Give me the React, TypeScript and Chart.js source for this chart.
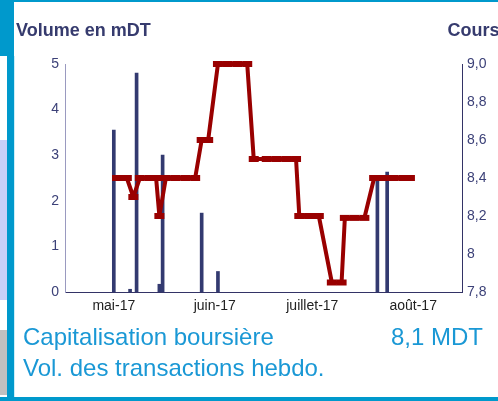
import React, { useEffect, useRef } from "react";
import { Chart, registerables } from "chart.js";

Chart.register(...registerables);

// ---- data ----
const volumeDates = ["2017-05-01", "2017-05-06", "2017-05-08", "2017-05-15", "2017-05-16", "2017-05-28", "2017-06-02", "2017-07-21", "2017-07-24"];
const volumeValues = [3.55, 0.06, 4.8, 0.17, 3.0, 1.73, 0.45, 2.45, 2.63];

const priceDates = [
  "2017-05-02", "2017-05-05", "2017-05-07", "2017-05-09", "2017-05-12", "2017-05-14", "2017-05-15", "2017-05-17",
  "2017-05-20", "2017-05-23", "2017-05-26", "2017-05-28", "2017-05-30", "2017-06-02", "2017-06-05", "2017-06-08",
  "2017-06-11", "2017-06-13", "2017-06-17", "2017-06-20", "2017-06-23", "2017-06-26", "2017-06-27", "2017-06-30",
  "2017-07-03", "2017-07-07", "2017-07-10", "2017-07-11", "2017-07-14", "2017-07-17", "2017-07-20", "2017-07-23",
  "2017-07-26", "2017-07-29", "2017-07-31",
];
const priceValues = [
  8.4, 8.4, 8.3, 8.4, 8.4, 8.4, 8.2, 8.4,
  8.4, 8.4, 8.4, 8.6, 8.6, 9.0, 9.0, 9.0,
  9.0, 8.5, 8.5, 8.5, 8.5, 8.5, 8.2, 8.2,
  8.2, 7.85, 7.85, 8.19, 8.19, 8.19, 8.4, 8.4,
  8.4, 8.4, 8.4,
];

const monthTickDates = ["2017-05-01", "2017-06-01", "2017-07-01", "2017-08-01"];
const monthTickLabels = ["mai-17", "juin-17", "juillet-17", "août-17"];
const axisStartDate = "2017-04-16";
const axisEndDate = "2017-08-16";

const volumeMin = 0;
const volumeMax = 5;
const priceMin = 7.8;
const priceMax = 9.0;

const titleLeft = "Volume en mDT";
const titleRight = "Cours";
const capLabel = "Capitalisation boursière";
const capValue = "8,1 MDT";
const volLabel = "Vol. des transactions hebdo.";

// ---- helpers ----
const ORIGIN = Date.UTC(2017, 3, 1);
function dayOf(s: string): number {
  const [y, m, d] = s.split("-").map(Number);
  return (Date.UTC(y, m - 1, d) - ORIGIN) / 86400000;
}

const FONT = "'Liberation Sans', Arial, sans-serif";
const NAVY = "#363B6E";
const CYAN = "#0099CC";
const TEXT_BLUE = "#1A98D5";

export default function App() {
  const ref = useRef<HTMLCanvasElement | null>(null);

  useEffect(() => {
    document.body.style.margin = "0";
    if (!ref.current) return;
    const tickDays = monthTickDates.map(dayOf);
    const chart = new Chart(ref.current, {
      type: "bar",
      data: {
        datasets: [
          {
            type: "line",
            label: "Cours",
            data: priceDates.map((d, i) => ({ x: dayOf(d), y: priceValues[i] })),
            yAxisID: "y1",
            borderColor: "#990000",
            backgroundColor: "#990000",
            borderWidth: 4,
            borderJoinStyle: "bevel",
            tension: 0,
            clip: false,
            pointStyle: "line",
            pointRadius: 5,
            pointBorderWidth: 6,
            pointBorderColor: "#990000",
            pointHoverRadius: 5,
            order: 0,
          } as any,
          {
            type: "bar",
            label: "Volume",
            data: volumeDates.map((d, i) => ({ x: dayOf(d), y: volumeValues[i] })),
            yAxisID: "y",
            backgroundColor: "#333A70",
            borderWidth: 0,
            barThickness: 3,
            order: 1,
          } as any,
        ],
      },
      options: {
        responsive: false,
        animation: false,
        layout: { padding: { top: 64, left: 0, right: 0, bottom: 0 } },
        plugins: { legend: { display: false }, tooltip: { enabled: false }, title: { display: false } },
        scales: {
          x: {
            type: "linear",
            position: "bottom",
            offset: false,
            bounds: "data",
            min: dayOf(axisStartDate),
            max: dayOf(axisEndDate),
            grid: { display: false, drawTicks: false, offset: false },
            border: { display: true, color: "#333366", width: 1 },
            afterBuildTicks: (scale: any) => {
              scale.ticks = tickDays.map((v) => ({ value: v }));
            },
            afterFit: (scale: any) => {
              scale.height = 109;
            },
            ticks: {
              autoSkip: false,
              maxRotation: 0,
              padding: 6,
              color: "#222222",
              font: { family: FONT, size: 14 },
              callback: (v: any) => {
                const i = tickDays.indexOf(Number(v));
                return i >= 0 ? monthTickLabels[i] : "";
              },
            },
          },
          y: {
            type: "linear",
            position: "left",
            min: volumeMin,
            max: volumeMax,
            grid: { display: false, drawTicks: false },
            border: { display: true, color: "#9A9AC0", width: 1 },
            afterFit: (scale: any) => {
              scale.width = 65;
            },
            ticks: {
              stepSize: 1,
              padding: 6,
              color: "#3C4178",
              font: { family: FONT, size: 14 },
            },
          },
          y1: {
            type: "linear",
            position: "right",
            min: priceMin,
            max: priceMax,
            grid: { display: false, drawTicks: false },
            border: { display: true, color: "#333366", width: 1 },
            afterFit: (scale: any) => {
              scale.width = 36;
            },
            ticks: {
              stepSize: 0.2,
              padding: 5,
              color: "#3C4178",
              font: { family: FONT, size: 14 },
              callback: (v: any) => {
                const n = Number(v);
                if (Math.abs(n - 8) < 1e-6) return "8";
                return n.toFixed(1).replace(".", ",");
              },
            },
          },
        },
      } as any,
    });
    return () => chart.destroy();
  }, []);

  const box = (s: React.CSSProperties): React.CSSProperties => ({ position: "absolute", ...s });

  return (
    <div style={{ position: "fixed", left: 0, top: 0, width: 498, height: 401, overflow: "hidden", background: "#ffffff", fontFamily: FONT }}>
      {/* frame */}
      <div style={box({ left: 0, top: 0, width: 14, height: 56, background: CYAN })} />
      <div style={box({ left: 14, top: 0, width: 484, height: 2, background: CYAN })} />
      <div style={box({ left: 0, top: 140, width: 7, height: 160, background: "#C8D0F8" })} />
      <div style={box({ left: 0, top: 330, width: 7, height: 65, background: "#C0C0C0" })} />
      <div style={box({ left: 7, top: 56, width: 7, height: 345, background: CYAN })} />
      <div style={box({ left: 14, top: 56, width: 1, height: 341, background: "#CCEEF8" })} />
      <div style={box({ left: 0, top: 397, width: 498, height: 4, background: CYAN })} />

      <canvas ref={ref} width={498} height={401} style={box({ left: 0, top: 0, width: 498, height: 401, display: "block" })} />

      {/* texts */}
      <div style={box({ left: 16, top: 20.5, fontSize: 18, lineHeight: "18px", fontWeight: "bold", color: NAVY, whiteSpace: "nowrap" })}>{titleLeft}</div>
      <div style={box({ left: 447.5, top: 20.5, fontSize: 18, lineHeight: "18px", fontWeight: "bold", color: NAVY, whiteSpace: "nowrap" })}>{titleRight}</div>
      <div style={box({ left: 23, top: 324.7, fontSize: 24, lineHeight: "24px", color: TEXT_BLUE, whiteSpace: "nowrap" })}>{capLabel}</div>
      <div style={box({ right: 15, top: 324.7, fontSize: 24, lineHeight: "24px", color: TEXT_BLUE, whiteSpace: "nowrap" })}>{capValue}</div>
      <div style={box({ left: 23, top: 356.4, fontSize: 24, lineHeight: "24px", color: TEXT_BLUE, whiteSpace: "nowrap" })}>{volLabel}</div>
    </div>
  );
}
